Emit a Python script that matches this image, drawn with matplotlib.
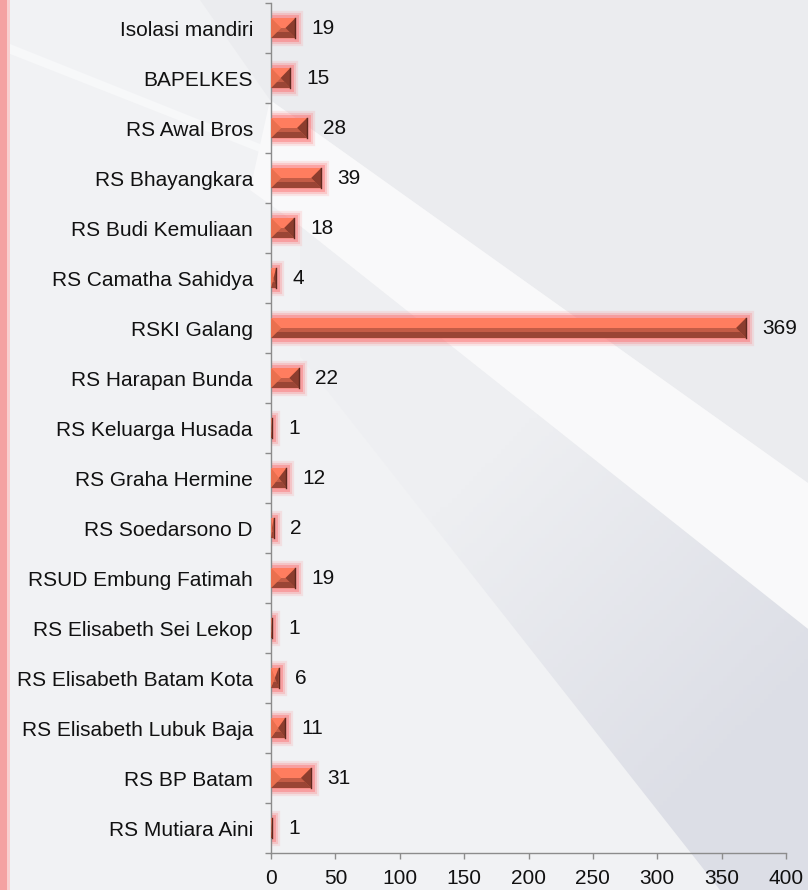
import matplotlib.pyplot as plt
import matplotlib.patheffects as pe
from matplotlib.patches import Polygon
from matplotlib.colors import LinearSegmentedColormap
import numpy as np

plt.rcParams['font.family'] = ['Liberation Sans', 'DejaVu Sans']

# Data pasien per lokasi
lokasi = ['Isolasi mandiri', 'BAPELKES', 'RS Awal Bros', 'RS Bhayangkara',
          'RS Budi Kemuliaan', 'RS Camatha Sahidya', 'RSKI Galang',
          'RS Harapan Bunda', 'RS Keluarga Husada', 'RS Graha Hermine',
          'RS Soedarsono D', 'RSUD Embung Fatimah', 'RS Elisabeth Sei Lekop',
          'RS Elisabeth Batam Kota', 'RS Elisabeth Lubuk Baja', 'RS BP Batam',
          'RS Mutiara Aini']
jumlah = [19, 15, 28, 39, 18, 4, 369, 22, 1, 12, 2, 19, 1, 6, 11, 31, 1]
x_ticks = [0, 50, 100, 150, 200, 250, 300, 350, 400]

W, H = 808, 890
fig = plt.figure(figsize=(W / 100, H / 100), dpi=100)
fig.patch.set_facecolor('#f1f2f4')

# Latar belakang (koordinat piksel, y dari atas)
bgax = fig.add_axes([0, 0, 1, 1], zorder=-5)
bgax.set_xlim(0, W)
bgax.set_ylim(H, 0)
bgax.axis('off')


def bg(pts, color, alpha=1.0):
    p = Polygon(pts, closed=True, facecolor=color, edgecolor='none', alpha=alpha)
    bgax.add_patch(p)
    return p


bg([(200, 0), (808, 0), (808, 483), (324, 138), (270, 100)], '#ebecef')
bg([(0, 40), (300, 160), (300, 168), (0, 50)], '#f7f8f9')
bg([(270, 100), (324, 138), (808, 483), (808, 629), (300, 226), (250, 190)],
   '#f9f9fa')

# Area gelap di kanan bawah dengan gradasi diagonal
dark = bg([(300, 356), (300, 226), (808, 629), (808, 890), (720, 890)], 'none')
xx, yy = np.meshgrid(np.linspace(0, W, 200), np.linspace(0, H, 200))
g = np.clip((xx + yy - 950) / 550, 0, 1)
cmap = LinearSegmentedColormap.from_list('g', ['#eeeff2', '#dcdee6'])
bgax.imshow(g, cmap=cmap, extent=(0, W, H, 0), aspect='auto',
            clip_path=dark, zorder=1, origin='upper')

# Garis merah di tepi kiri
bg([(0, 0), (10, 0), (10, 890), (0, 890)], '#f9d0d0')
bg([(0, 0), (7, 0), (7, 890), (0, 890)], '#f4a2a2')

ax = fig.add_axes([271 / W, 37 / H, 515 / W, 850 / H])
ax.set_facecolor('none')

y = np.arange(len(lokasi))
glow = [pe.Stroke(linewidth=11, foreground='#ff5c5c', alpha=0.12),
        pe.Stroke(linewidth=8, foreground='#ff5c5c', alpha=0.2),
        pe.Stroke(linewidth=5, foreground='#ff5a5a', alpha=0.35),
        pe.Normal()]
ax.barh(y, jumlah, height=0.4, color='#f2714f', edgecolor='none',
        path_effects=glow, zorder=2)

# Efek bevel pada batang
dx = 10 * 400 / 515
for i, v in zip(y, jumlah):
    d = min(dx, v / 2)
    t, b, m = i - 0.2, i + 0.2, i
    ax.fill([0, v, v - d, d], [t, t, m, m], color='#ff7d5f', lw=0, zorder=3)
    ax.fill([0, v, v - d, d], [b, b, m, m], color='#c45c46', lw=0, zorder=3)
    ax.fill([0.6 * d, v - 0.6 * d, v, 0], [i + 0.08, i + 0.08, b, b],
            color='#9a4535', lw=0, zorder=3)
    ax.fill([0, d, 0], [t, m, b], color='#e9704f', lw=0, zorder=3)
    ax.fill([v, v, v - d], [t, b, m], color='#8c3d2e', lw=0, zorder=3)
    ax.plot([v, v], [t, b], color='#5e281e', lw=1, zorder=4)
    ax.annotate(str(v), (v, i), xytext=(11.5, 0), textcoords='offset points',
                va='center', ha='left', fontsize=15, color='#111111')

ax.set_xlim(0, 400)
ax.set_ylim(len(lokasi) - 0.5, -0.5)
ax.set_xticks(x_ticks)
ax.set_xticklabels([str(t) for t in x_ticks])
ax.set_yticks(y)
ax.set_yticklabels(lokasi)
ax.set_yticks(np.arange(-0.5, len(lokasi), 1), minor=True)

ax.tick_params(axis='y', which='major', length=0, pad=13, labelsize=15,
               labelcolor='#111111')
ax.tick_params(axis='y', which='minor', length=4.3, width=1, color='#8c8c8c',
               direction='out')
ax.tick_params(axis='x', length=4.3, width=1, color='#8c8c8c', pad=7,
               labelsize=15, labelcolor='#111111')

for s in ['top', 'right']:
    ax.spines[s].set_visible(False)
for s in ['left', 'bottom']:
    ax.spines[s].set_color('#8c8c8c')
    ax.spines[s].set_linewidth(1)

fig.savefig('out.png', dpi=100, facecolor=fig.get_facecolor())
